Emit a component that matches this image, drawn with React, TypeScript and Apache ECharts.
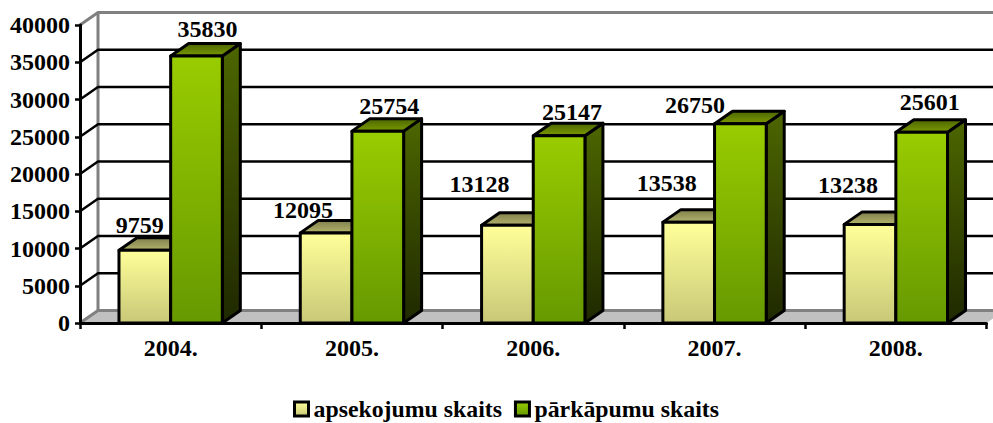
import React, { useEffect, useRef } from "react";
import * as echarts from "echarts";

const categories = ["2004.", "2005.", "2006.", "2007.", "2008."];
const inspections = [9759, 12095, 13128, 13538, 13238];
const violations = [35830, 25754, 25147, 26750, 25601];
const yTicks = [0, 5000, 10000, 15000, 20000, 25000, 30000, 35000, 40000];
const inspectionLabelShift = [[-5, -25], [-23, -23], [-28, -41], [-22, -39], [-22, -39]];
const violationLabelShift = [[11, -27], [11.5, -25], [13, -24], [-45.5, -19], [8, -30]];

const DX = 18;
const DY = -12.5;
const FONT = "Liberation Serif";
const vGrad = (a: string, b: string) => new echarts.graphic.LinearGradient(0, 0, 0, 1, [
  { offset: 0, color: a },
  { offset: 1, color: b },
]);

function barRender(side: number, values: number[], shift: number[][], front: string[], top: string[], right: string[]) {
  return (params: any, api: any) => {
    const i = params.dataIndex;
    const [cx, y] = api.coord([i, values[i]]);
    const [, y0] = api.coord([i, 0]);
    const w = api.size([1, 0])[0] * 0.285;
    const x0 = side < 0 ? cx - w : cx;
    const x1 = x0 + w;
    const stroke = { stroke: "#000", lineWidth: 3, lineJoin: "round" };
    return {
      type: "group",
      children: [
        {
          type: "polygon",
          shape: { points: [[x1, y], [x1 + DX, y + DY], [x1 + DX, y0 + DY], [x1, y0]] },
          style: { fill: vGrad(right[0], right[1]), ...stroke },
        },
        {
          type: "polygon",
          shape: { points: [[x0, y], [x0 + DX, y + DY], [x1 + DX, y + DY], [x1, y]] },
          style: { fill: vGrad(top[0], top[1]), ...stroke },
        },
        {
          type: "rect",
          shape: { x: x0, y, width: w, height: y0 - y },
          style: { fill: vGrad(front[0], front[1]), ...stroke },
        },
        {
          type: "text",
          x: (x0 + x1) / 2 + shift[i][0],
          y: y + shift[i][1],
          style: {
            text: String(values[i]),
            fill: "#000",
            font: `bold 24px "${FONT}"`,
            align: "center",
            verticalAlign: "middle",
          },
          z2: 50,
        },
      ],
    };
  };
}

function wallRender(params: any, api: any) {
  const t = yTicks[params.dataIndex];
  const [cx, y] = api.coord([0, t]);
  const band = api.size([1, 0])[0];
  const xl = cx - band / 2;
  const xr = cx + band * (categories.length - 0.5);
  const children: any[] = [];
  if (t === 0) {
    children.push({
      type: "polygon",
      shape: { points: [[xl, y], [xl + DX, y + DY], [xr + DX, y + DY], [xr, y]] },
      style: { fill: "#C0C0C0", stroke: "none" },
    });
    const top = api.coord([0, yTicks[yTicks.length - 1]])[1];
    children.push({
      type: "line",
      shape: { x1: xl + DX, y1: y + DY, x2: xl + DX, y2: top + DY },
      style: { stroke: "#808080", lineWidth: 3 },
    });
  }
  const grey = t === 0 || t === yTicks[yTicks.length - 1];
  children.push({
    type: "polyline",
    shape: { points: [[xl, y], [xl + DX, y + DY], [xr + DX, y + DY]] },
    style: { stroke: grey ? "#808080" : "#000", lineWidth: grey ? 3 : 2.4, fill: "none" },
  });
  return { type: "group", children };
}

export default function App() {
  const ref = useRef<HTMLDivElement>(null);
  useEffect(() => {
    const chart = echarts.init(ref.current!, null, { renderer: "svg" });
    const labelFont = { fontFamily: FONT, fontWeight: "bold" as const, color: "#000" };
    const yellowIcon = vGrad("#FFFF99", "#C8C878");
    const greenIcon = vGrad("#99CC00", "#669900");
    chart.setOption({
      animation: false,
      backgroundColor: "#fff",
      grid: { left: 80, top: 25, width: 906.5, height: 298, containLabel: false },
      xAxis: {
        type: "category",
        data: categories,
        axisLine: { lineStyle: { color: "#000", width: 3 } },
        axisTick: { show: true, length: 6, lineStyle: { color: "#000", width: 2.5 } },
        axisLabel: { ...labelFont, fontSize: 24, margin: 13 },
        z: 10,
      },
      yAxis: {
        type: "value",
        min: 0,
        max: 40000,
        interval: 5000,
        splitLine: { show: false },
        axisLine: { show: true, lineStyle: { color: "#000", width: 3 } },
        axisTick: { show: true, length: 5, lineStyle: { color: "#000", width: 2.5 } },
        axisLabel: { ...labelFont, fontSize: 24, margin: 10, formatter: (v: number) => String(v) },
        z: 10,
      },
      legend: {
        left: 288,
        top: 392,
        itemWidth: 14,
        itemHeight: 14,
        itemGap: 12,
        icon: "rect",
        textStyle: { ...labelFont, fontSize: 23.8, padding: [0, 0, 0, 0] },
        data: [
          { name: "apsekojumu skaits", itemStyle: { color: yellowIcon, borderColor: "#000", borderWidth: 3 } },
          { name: "pārkāpumu skaits", itemStyle: { color: greenIcon, borderColor: "#000", borderWidth: 3 } },
        ],
      },
      series: [
        {
          type: "custom",
          name: "walls",
          coordinateSystem: "cartesian2d",
          clip: false,
          z: 1,
          data: yTicks.map((t) => [0, t]),
          encode: { y: 1 },
          renderItem: wallRender,
          silent: true,
        },
        {
          type: "custom",
          name: "apsekojumu skaits",
          coordinateSystem: "cartesian2d",
          clip: false,
          z: 3,
          itemStyle: { color: "#FFFF99" },
          data: inspections.map((v, i) => [i, v]),
          encode: { x: 0, y: 1 },
          renderItem: barRender(-1, inspections, inspectionLabelShift, ["#FFFF99", "#C8C878"], ["#807F4D", "#B3B36B"], ["#4D4D2E", "#222211"]),
        },
        {
          type: "custom",
          name: "pārkāpumu skaits",
          coordinateSystem: "cartesian2d",
          clip: false,
          z: 4,
          itemStyle: { color: "#99CC00" },
          data: violations.map((v, i) => [i, v]),
          encode: { x: 0, y: 1 },
          renderItem: barRender(1, violations, violationLabelShift, ["#99CC00", "#669900"], ["#4D6600", "#7A9900"], ["#4D6600", "#1F2900"]),
        },
      ],
    });
    return () => chart.dispose();
  }, []);
  return <div ref={ref} style={{ position: "fixed", left: 0, top: 0, width: 993, height: 423 }} />;
}
